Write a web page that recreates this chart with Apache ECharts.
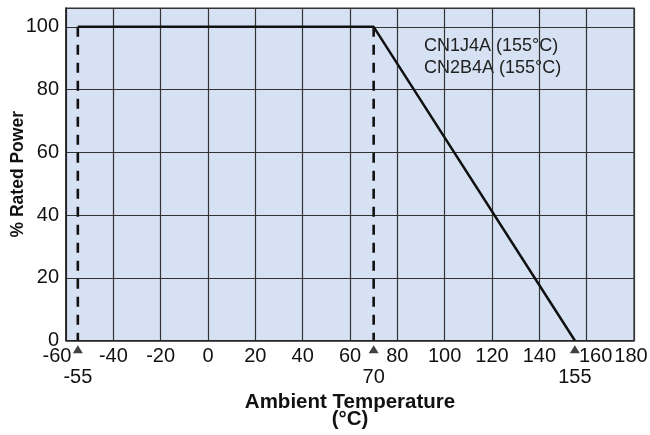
<!DOCTYPE html>
<html>
<head>
<meta charset="utf-8">
<script src="https://cdn.jsdelivr.net/npm/echarts@6/dist/echarts.min.js"></script>
<style>html,body{margin:0;padding:0;background:#fff}#c{width:650px;height:435px}</style>
</head>
<body>
<div id="c"></div>
<script>
var curveX = [-55, 70, 155];
var curveY = [100, 100, 0];
var markTemps = [-55, 70, 155];
var yTicks = [0, 20, 40, 60, 80, 100];
var xTicks = [-60, -40, -20, 0, 20, 40, 60, 80, 100, 120, 140, 160, 180];
var legendLines = ['CN1J4A (155°C)', 'CN2B4A (155°C)'];

var font = '"Liberation Sans", Arial, Helvetica, sans-serif';
var chart = echarts.init(document.getElementById('c'));
var curve = curveX.map(function (x, i) { return [x, curveY[i]]; });
var dashSeries = [markTemps[0], markTemps[1]].map(function (t) {
  return {
    type: 'line', data: [[t, curveY[0]], [t, 0]], symbol: 'none', silent: true,
    lineStyle: { color: '#111', width: 2.6, type: [10, 8] }, z: 3
  };
});
var tickStyle = { color: '#111', fontSize: 20, fontFamily: font };
chart.setOption({
  animation: false,
  grid: { left: 66, right: 16, top: 8, bottom: 94.5, outerBoundsMode: 'none', containLabel: false,
    show: true, backgroundColor: '#d6e2f3', borderColor: '#333', borderWidth: 1.2 },
  xAxis: [{
    type: 'value', min: -60, max: 180, interval: 20,
    axisLine: { show: true, onZero: false, lineStyle: { color: '#222', width: 1.5 } },
    axisTick: { show: false },
    splitLine: { show: true, lineStyle: { color: '#333', width: 1.2 } },
    axisLabel: {
      color: '#111', fontSize: 20, fontFamily: font, margin: 6, hideOverlap: false, showMinLabel: true, showMaxLabel: true,
      formatter: function (v) {
        if (v === xTicks[0]) return '{l|' + v + '}';
        if (v === 160) return '{r|' + v + '}';
        if (v === xTicks[xTicks.length - 1]) return '{e|' + v + '}';
        return String(v);
      },
      rich: {
        l: Object.assign({ padding: [0, 18, 0, 0] }, tickStyle),
        r: Object.assign({ padding: [0, 0, 0, 18] }, tickStyle),
        e: Object.assign({ padding: [0, 6, 0, 0] }, tickStyle)
      }
    },
    name: 'Ambient Temperature\n(°C)', nameLocation: 'middle', nameGap: 53,
    nameTextStyle: { color: '#111', fontSize: 20.5, fontWeight: 'bold', fontFamily: font, lineHeight: 17 }
  }, {
    type: 'value', min: -60, max: 180, position: 'bottom', offset: 21,
    axisLine: { show: false }, axisTick: { show: false }, splitLine: { show: false },
    axisLabel: { customValues: markTemps, color: '#111', fontSize: 20, fontFamily: font, margin: 6, hideOverlap: false }
  }],
  yAxis: {
    type: 'value', min: 0, max: 106, interval: 20,
    axisLine: { show: true, onZero: false, lineStyle: { color: '#222', width: 1.5 } },
    axisTick: { show: false },
    splitLine: { show: true, lineStyle: { color: '#333', width: 1.2 } },
    axisLabel: { color: '#111', fontSize: 20, fontFamily: font, margin: 7,
      formatter: function (v) { return yTicks.indexOf(v) >= 0 ? String(v) : ''; } },
    name: '% Rated Power', nameLocation: 'middle', nameGap: 38.5, nameMoveOverlap: false,
    nameTextStyle: { color: '#111', fontSize: 17.5, fontWeight: 'bold', fontFamily: font }
  },
  graphic: [{
    type: 'text', left: 424, top: 35,
    style: { text: legendLines.join('\n'), fontSize: 18, fontFamily: font, fill: '#222', lineHeight: 22 }
  }],
  series: dashSeries.concat([{
    type: 'line', data: curve, symbol: 'none', silent: true,
    lineStyle: { color: '#111', width: 2.5 }, z: 4
  }, {
    type: 'scatter', data: markTemps.map(function (t) { return [t, -2.8]; }),
    symbol: 'triangle', symbolSize: [10, 8], clip: false, silent: true,
    itemStyle: { color: '#111' }, z: 5
  }])
});
</script>
</body>
</html>
